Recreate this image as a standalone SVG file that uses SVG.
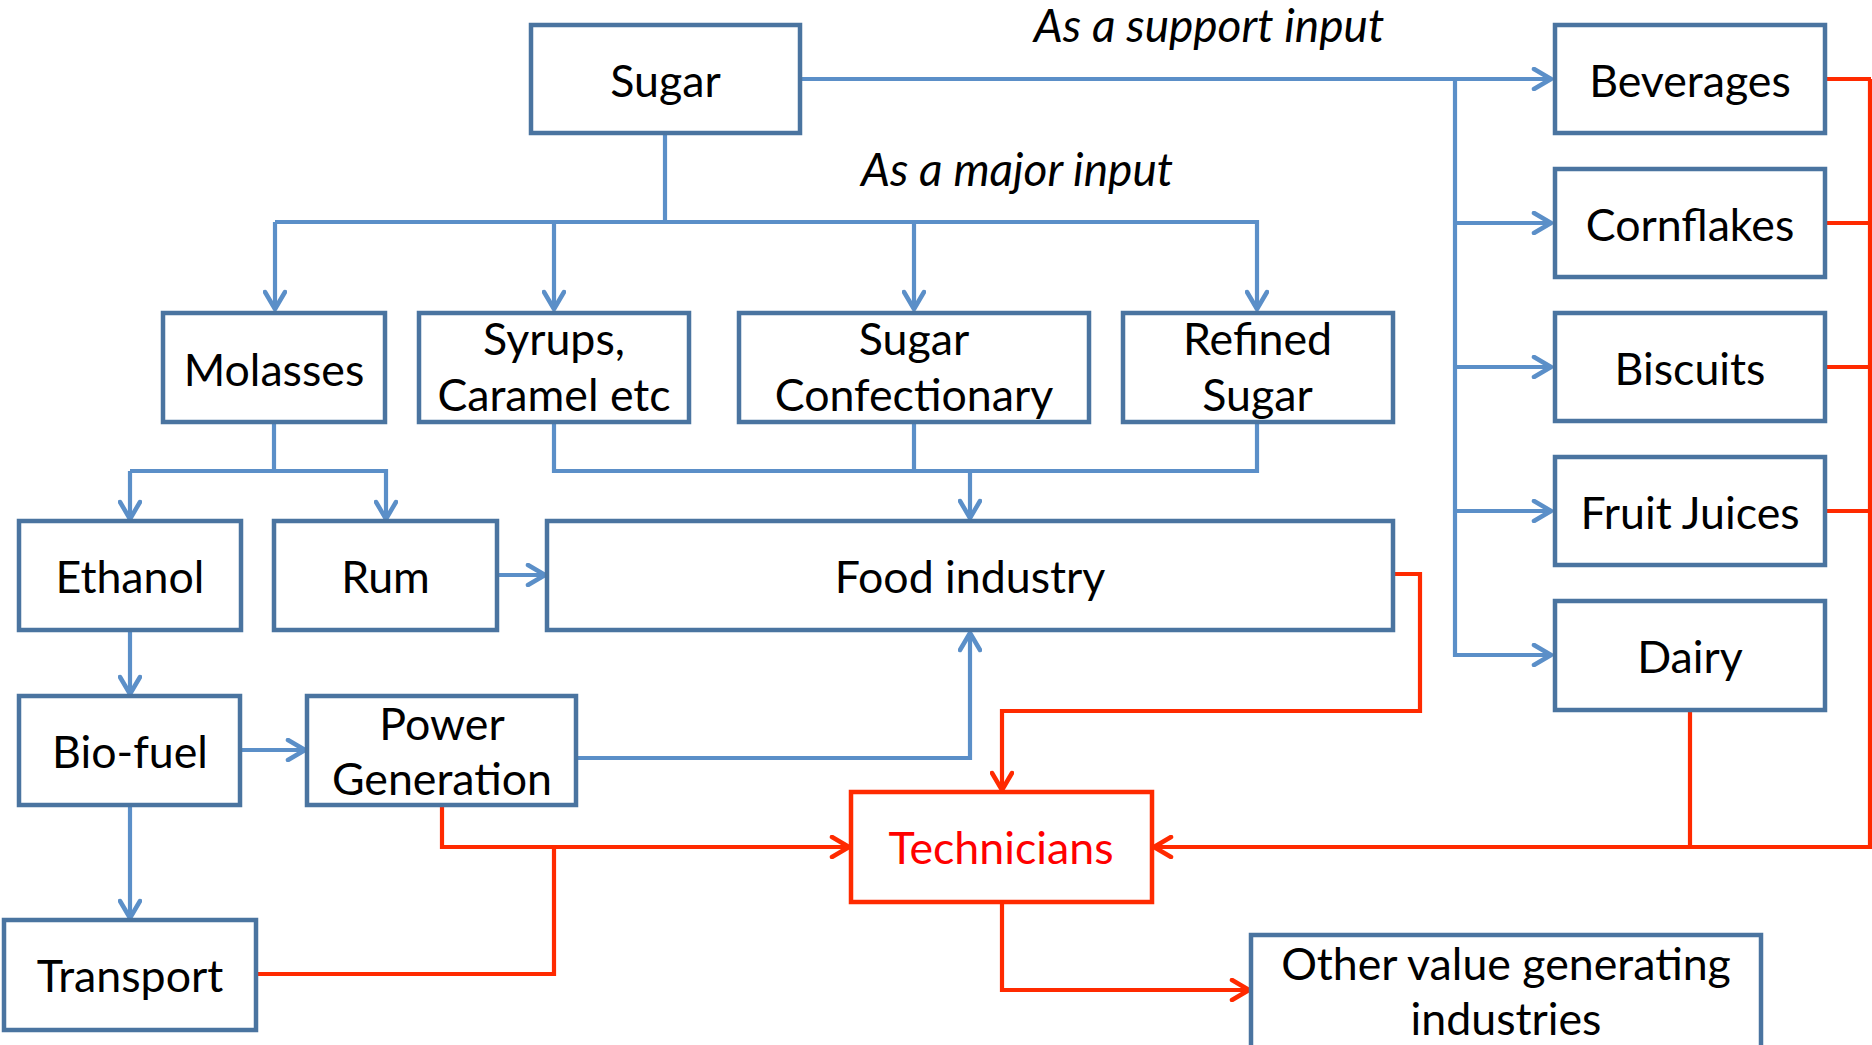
<svg xmlns="http://www.w3.org/2000/svg" width="1872" height="1045" viewBox="0 0 1872 1045">
<defs>
<style>
.box{fill:#fff;stroke:#4a74a0;stroke-width:4.5}
.tbox{fill:#fff;stroke:#ff2a00;stroke-width:4.5}
.t{font-family:Lato,"Open Sans","Liberation Sans",sans-serif;font-size:44.7px;fill:#000;text-anchor:middle}
.it{font-family:Lato,"Open Sans","Liberation Sans",sans-serif;font-size:46px;font-style:italic;fill:#000;text-anchor:middle}
.red{fill:#ff0000}
.cb{fill:none;stroke:#5b8fc8;stroke-width:4.2}
.cr{fill:none;stroke:#ff2a00;stroke-width:4.2}
</style>
<marker id="ab" viewBox="0 0 22 24" refX="20" refY="12" markerWidth="22" markerHeight="24" markerUnits="userSpaceOnUse" orient="auto">
<path d="M3,2 L20,12 L3,22" fill="none" stroke="#5b8fc8" stroke-width="4.5" stroke-linecap="round" stroke-linejoin="round"/>
</marker>
<marker id="ar" viewBox="0 0 22 24" refX="20" refY="12" markerWidth="22" markerHeight="24" markerUnits="userSpaceOnUse" orient="auto">
<path d="M3,2 L20,12 L3,22" fill="none" stroke="#ff2a00" stroke-width="4.5" stroke-linecap="round" stroke-linejoin="round"/>
</marker>
</defs>
<rect width="1872" height="1045" fill="#fff"/>
<g id="connectors">
<path class="cb" d="M802,79 H1551" marker-end="url(#ab)"/>
<path class="cb" d="M1455,79 V655 H1551" marker-end="url(#ab)"/>
<path class="cb" d="M1455,223 H1551" marker-end="url(#ab)"/>
<path class="cb" d="M1455,367 H1551" marker-end="url(#ab)"/>
<path class="cb" d="M1455,511 H1551" marker-end="url(#ab)"/>
<path class="cb" d="M665,135 V222"/>
<path class="cb" d="M275,222 H1257 V309" marker-end="url(#ab)"/>
<path class="cb" d="M275,222 V309" marker-end="url(#ab)"/>
<path class="cb" d="M554,222 V309" marker-end="url(#ab)"/>
<path class="cb" d="M914,222 V309" marker-end="url(#ab)"/>
<path class="cb" d="M274,424 V471"/>
<path class="cb" d="M130,471 H386 V519" marker-end="url(#ab)"/>
<path class="cb" d="M130,471 V519" marker-end="url(#ab)"/>
<path class="cb" d="M554,424 V471 H1257 V424"/>
<path class="cb" d="M914,424 V471"/>
<path class="cb" d="M970,471 V518" marker-end="url(#ab)"/>
<path class="cb" d="M499,575 H545" marker-end="url(#ab)"/>
<path class="cb" d="M130,632 V694" marker-end="url(#ab)"/>
<path class="cb" d="M242,750 H305" marker-end="url(#ab)"/>
<path class="cb" d="M578,758 H970 V633" marker-end="url(#ab)"/>
<path class="cb" d="M130,807 V918" marker-end="url(#ab)"/>
<path class="cr" d="M1395,574 H1420 V711 H1002 V790" marker-end="url(#ar)"/>
<path class="cr" d="M442,807 V847 H849" marker-end="url(#ar)"/>
<path class="cr" d="M258,974 H554 V847"/>
<path class="cr" d="M1827,79 H1871"/>
<path class="cr" d="M1827,223 H1871"/>
<path class="cr" d="M1827,367 H1871"/>
<path class="cr" d="M1827,511 H1871"/>
<path class="cr" d="M1870,79 V847 H1154" marker-end="url(#ar)"/>
<path class="cr" d="M1690,712 V847"/>
<path class="cr" d="M1002,904 V990 H1249" marker-end="url(#ar)"/>
</g>
<text class="it" x="1209" y="42">As a support input</text>
<text class="it" x="1017" y="186">As a major input</text>
<g id="sugar"><rect class="box" x="531" y="25" width="269" height="108"/><text class="t" x="665.5" y="97">Sugar</text></g>
<g id="beverages"><rect class="box" x="1555" y="25" width="270" height="108"/><text class="t" x="1690" y="97">Beverages</text></g>
<g id="cornflakes"><rect class="box" x="1555" y="169" width="270" height="108"/><text class="t" x="1690" y="241">Cornflakes</text></g>
<g id="biscuits"><rect class="box" x="1555" y="313" width="270" height="108"/><text class="t" x="1690" y="385">Biscuits</text></g>
<g id="fruit-juices"><rect class="box" x="1555" y="457" width="270" height="108"/><text class="t" x="1690" y="529">Fruit Juices</text></g>
<g id="dairy"><rect class="box" x="1555" y="601" width="270" height="109"/><text class="t" x="1690" y="673">Dairy</text></g>
<g id="molasses"><rect class="box" x="163" y="313" width="222" height="109"/><text class="t" x="274" y="386">Molasses</text></g>
<g id="syrups"><rect class="box" x="419" y="313" width="270" height="109"/><text class="t" x="554" y="355">Syrups,</text><text class="t" x="554" y="411">Caramel etc</text></g>
<g id="confectionary"><rect class="box" x="739" y="313" width="350" height="109"/><text class="t" x="914" y="355">Sugar</text><text class="t" x="914" y="411">Confectionary</text></g>
<g id="refined-sugar"><rect class="box" x="1123" y="313" width="270" height="109"/><text class="t" x="1257.5" y="355">Refined</text><text class="t" x="1257.5" y="411">Sugar</text></g>
<g id="ethanol"><rect class="box" x="19" y="521" width="222" height="109"/><text class="t" x="130" y="593">Ethanol</text></g>
<g id="rum"><rect class="box" x="274" y="521" width="223" height="109"/><text class="t" x="385.5" y="593">Rum</text></g>
<g id="food-industry"><rect class="box" x="547" y="521" width="846" height="109"/><text class="t" x="970" y="593">Food industry</text></g>
<g id="bio-fuel"><rect class="box" x="19" y="696" width="221" height="109"/><text class="t" x="130" y="768">Bio-fuel</text></g>
<g id="power-generation"><rect class="box" x="307" y="696" width="269" height="109"/><text class="t" x="442" y="740">Power</text><text class="t" x="442" y="795">Generation</text></g>
<g id="transport"><rect class="box" x="4" y="920" width="252" height="110"/><text class="t" x="130" y="992">Transport</text></g>
<g id="technicians"><rect class="tbox" x="851" y="792" width="301" height="110"/><text class="t red" x="1001" y="864">Technicians</text></g>
<g id="other-industries"><rect class="box" x="1251" y="935" width="510" height="130"/><text class="t" x="1506" y="980">Other value generating</text><text class="t" x="1506" y="1035">industries</text></g>
</svg>
